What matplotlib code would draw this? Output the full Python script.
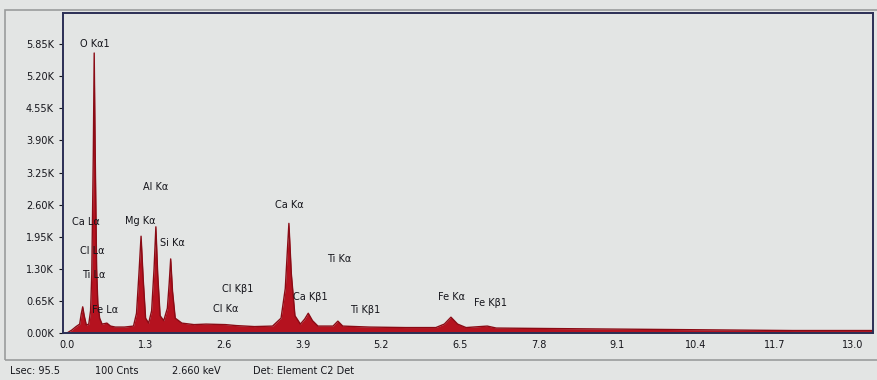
import matplotlib
matplotlib.use("Agg")
import matplotlib.pyplot as plt
from matplotlib.patches import Rectangle

# spectrum readings: energy (keV) and counts (thousands)
energy = [0.00, 0.08, 0.15, 0.21, 0.235, 0.26, 0.285, 0.32, 0.36, 0.39,
          0.41, 0.435, 0.45, 0.465, 0.49, 0.51, 0.54, 0.58, 0.66, 0.72,
          0.80, 0.95, 1.10, 1.15, 1.19, 1.225, 1.26, 1.30, 1.35, 1.40,
          1.44, 1.47, 1.50, 1.54, 1.60, 1.66, 1.69, 1.715, 1.745, 1.79,
          1.90, 2.10, 2.30, 2.62, 2.80, 3.10, 3.40, 3.54, 3.61, 3.67,
          3.71, 3.77, 3.86, 3.93, 3.99, 4.06, 4.15, 4.40, 4.48, 4.56,
          5.00, 5.60, 6.10, 6.24, 6.35, 6.46, 6.60, 6.95, 7.10, 8.00,
          9.00, 10.00, 11.00, 12.00, 13.00, 13.33]
counts = [0.00, 0.06, 0.13, 0.18, 0.38, 0.53, 0.35, 0.16, 0.18, 0.45,
          1.20, 3.60, 5.67, 3.80, 1.30, 0.60, 0.30, 0.18, 0.20, 0.14,
          0.12, 0.12, 0.14, 0.40, 1.20, 1.96, 1.10, 0.30, 0.20, 0.45,
          1.30, 2.15, 1.20, 0.35, 0.25, 0.50, 1.00, 1.50, 0.85, 0.30,
          0.20, 0.17, 0.18, 0.17, 0.15, 0.13, 0.14, 0.30, 0.90, 2.22,
          1.20, 0.35, 0.18, 0.28, 0.40, 0.25, 0.14, 0.14, 0.24, 0.14,
          0.12, 0.11, 0.11, 0.18, 0.32, 0.18, 0.11, 0.14, 0.10, 0.09,
          0.08, 0.07, 0.06, 0.05, 0.05, 0.05]

# peak labels: text, energy, counts
label_text = ["O Kα1", "Al Kα", "Ca Lα", "Mg Kα", "Si Kα", "Cl Lα", "Ti Lα",
              "Fe Lα", "Cl Kβ1", "Cl Kα", "Ca Kα", "Ti Kα", "Ca Kβ1",
              "Ti Kβ1", "Fe Kα", "Fe Kβ1"]
label_x = [0.21, 1.26, 0.08, 0.96, 1.54, 0.21, 0.25, 0.41, 2.56, 2.41,
           3.44, 4.30, 3.74, 4.68, 6.14, 6.73]
label_y = [5.85, 2.96, 2.25, 2.27, 1.82, 1.66, 1.17, 0.47, 0.89, 0.49,
           2.59, 1.50, 0.73, 0.47, 0.73, 0.61]

y_ticks = [0, 0.65, 1.30, 1.95, 2.60, 3.25, 3.90, 4.55, 5.20, 5.85]
x_ticks = [0, 1.3, 2.6, 3.9, 5.2, 6.5, 7.8, 9.1, 10.4, 11.7, 13.0]

footer = ["Lsec: 95.5", "100 Cnts", "2.660 keV", "Det: Element C2 Det"]
footer_x = [10, 95, 172, 253]

bg = "#e3e5e4"
ink = "#15151b"
frame = "#2b2f55"

fig = plt.figure(figsize=(8.78, 3.8), dpi=100, facecolor=bg)
ax = fig.add_axes([63 / 878, 1 - 333 / 380, 810 / 878, 320 / 380])
ax.set_facecolor(bg)

ax.fill_between(energy, counts, 0, color="#b5121f", linewidth=0)
ax.plot(energy, counts, color="#8a0b15", linewidth=1.0)

for t, x, y in zip(label_text, label_x, label_y):
    ax.text(x, y, t, fontsize=7, color=ink, ha="left", va="center")

ax.set_xlim(-0.066, 13.33)
ax.set_ylim(0, 6.48)
ax.set_yticks(y_ticks)
ax.set_yticklabels([f"{v:.2f}K" for v in y_ticks])
ax.set_xticks(x_ticks)
ax.set_xticklabels([f"{v:.1f}" for v in x_ticks])
ax.tick_params(axis="both", labelsize=7, colors=ink, length=3, width=0.8)
ax.tick_params(axis="x", length=0, pad=5)

for s in ax.spines.values():
    s.set_color(frame)
    s.set_linewidth(1.4)

# outer frame of the screen capture
fig.add_artist(Rectangle((5 / 878, 1 - 360 / 380), 1.0, 350 / 380,
                         transform=fig.transFigure, fill=False,
                         edgecolor="#9a9c9c", linewidth=1.2))

for t, x in zip(footer, footer_x):
    fig.text(x / 878, 1 - 371 / 380, t, fontsize=7, color=ink,
             ha="left", va="center")

fig.savefig("out.png", dpi=100, facecolor=bg)
